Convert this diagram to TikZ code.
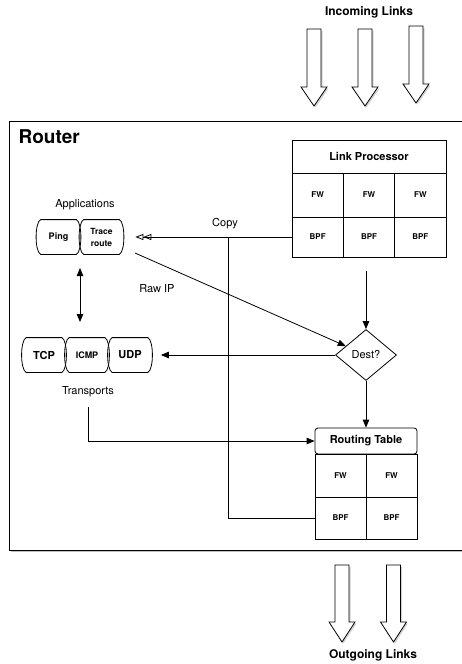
\documentclass[tikz,border=0pt]{standalone}
\usepackage{fontspec}
\setmainfont{TeX Gyre Heros}
\usetikzlibrary{arrows.meta,shapes.geometric,shadows}

\tikzset{
    cell/.style={draw, inner sep=0pt, font=\fontsize{8}{9}\selectfont\bfseries},
    headcell/.style={draw, inner sep=0pt, font=\fontsize{11}{13}\selectfont\bfseries},
    seg/.style={minimum width=35pt, minimum height=34pt, inner sep=0pt, align=center},
    txt/.style={font=\fontsize{11}{13}\selectfont},
    bigarrow/.style={draw, fill=white, drop shadow={shadow xshift=1.5pt, shadow yshift=-1.5pt, opacity=.35}},
}

\begin{document}
\begin{tikzpicture}[x=1pt, y=-1pt, line width=0.8pt, >={Triangle[length=8pt,width=6.5pt]}]
            \useasboundingbox (0,0) rectangle (461,664);
            \draw[fill=white, drop shadow={shadow xshift=1.5pt, shadow yshift=-1.5pt, opacity=.5}] (9,121) rectangle (475,550);
            \node[anchor=west, font=\fontsize{19}{22}\selectfont\bfseries] (router) at (15,137) {Router};

            \node[font=\fontsize{12}{14}\selectfont\bfseries] (incoming) at (369,12) {Incoming Links};
            \node[font=\fontsize{12}{14}\selectfont\bfseries] (outgoing) at (373,655) {Outgoing Links};
            \foreach \x/\t/\b in {314/29/106, 365/29/106, 416/26/103}
                \draw[bigarrow] (\x-7,\t) -- (\x+7,\t) -- (\x+7,\b-19) -- (\x+13,\b-19) -- (\x,\b) -- (\x-13,\b-19) -- (\x-7,\b-19) -- cycle;
            \foreach \x in {342, 393.5}
                \draw[bigarrow] (\x-7,565) -- (\x+7,565) -- (\x+7,622) -- (\x+13,622) -- (\x,642) -- (\x-13,622) -- (\x-7,622) -- cycle;

            \node[headcell, minimum width=154pt, minimum height=33pt] (lphead) at (369,156.5) {Link Processor};
            \foreach \i/\x in {1/317.67, 2/369, 3/420.33} {
                \node[cell, minimum width=51.33pt, minimum height=44pt] (lpf\i) at (\x,195) {FW};
                \node[cell, minimum width=51.33pt, minimum height=40pt] (lpb\i) at (\x,237) {BPF};
            }

            \node[headcell, rounded corners=3pt, minimum width=102pt, minimum height=26pt] (rthead) at (366,441) {Routing Table};
            \foreach \i/\x in {1/340.5, 2/391.5} {
                \node[cell, minimum width=51pt, minimum height=43pt] (rtf\i) at (\x,475.5) {FW};
                \node[cell, minimum width=51pt, minimum height=42pt] (rtb\i) at (\x,518) {BPF};
            }

            \node[draw, diamond, txt, inner sep=0pt, minimum width=61pt, minimum height=51pt] (dest) at (366,355) {Dest?};

            \node[txt] (apps) at (85,205) {Applications};
            \node[seg, font=\fontsize{9}{11}\selectfont\bfseries] (ping) at (58.5,237) {Ping};
            \node[seg, font=\fontsize{8.5}{12}\selectfont\bfseries] (trace) at (101.5,237) {Trace\\route};

            \node[seg, font=\fontsize{11}{13}\selectfont\bfseries] (tcp) at (44,355) {TCP};
            \node[seg, font=\fontsize{9}{11}\selectfont\bfseries] (icmp) at (87,355) {ICMP};
            \node[seg, font=\fontsize{11}{13}\selectfont\bfseries] (udp) at (130,355) {UDP};
            \node[txt] (transports) at (88,392) {Transports};

            \foreach \n in {ping, trace, tcp, icmp, udp}
                \draw (\n.north west) -- (\n.north east) .. controls +(6pt,-3pt) and +(6pt,3pt) .. (\n.south east)
                    -- (\n.south west) .. controls +(-6pt,3pt) and +(-6pt,-3pt) .. (\n.north west);

            \node[txt] (copy) at (225,224) {Copy};
            \node[txt] (rawiplabel) at (157,289) {Raw IP};

            \coordinate (copyjoin) at (228,237);
            \coordinate (rawip) at (135,253);
            \coordinate (appsbot) at (80,268);
            \coordinate (transtop) at (80,322);
            \coordinate (lpout) at (366,271);
            \coordinate (transout) at (88,407);

            \draw[-{Triangle[open,length=8pt,width=6pt] Triangle[open,length=8pt,width=6pt]}, shorten >=16pt] (lpb1.west) -- (trace.east);
            \draw (copyjoin) |- (rtb1.west);
            \draw[->] (rawip) -- (dest);
            \draw[<->] (appsbot) -- (transtop);
            \draw[->, shorten >=13pt] (dest.west) -- (udp.east);
            \draw[->] (lpout) -- (dest.north);
            \draw[->] (dest.south) -- (rthead.north);
            \draw[->] (transout) |- (rthead.west);
        \end{tikzpicture}
\end{document}
